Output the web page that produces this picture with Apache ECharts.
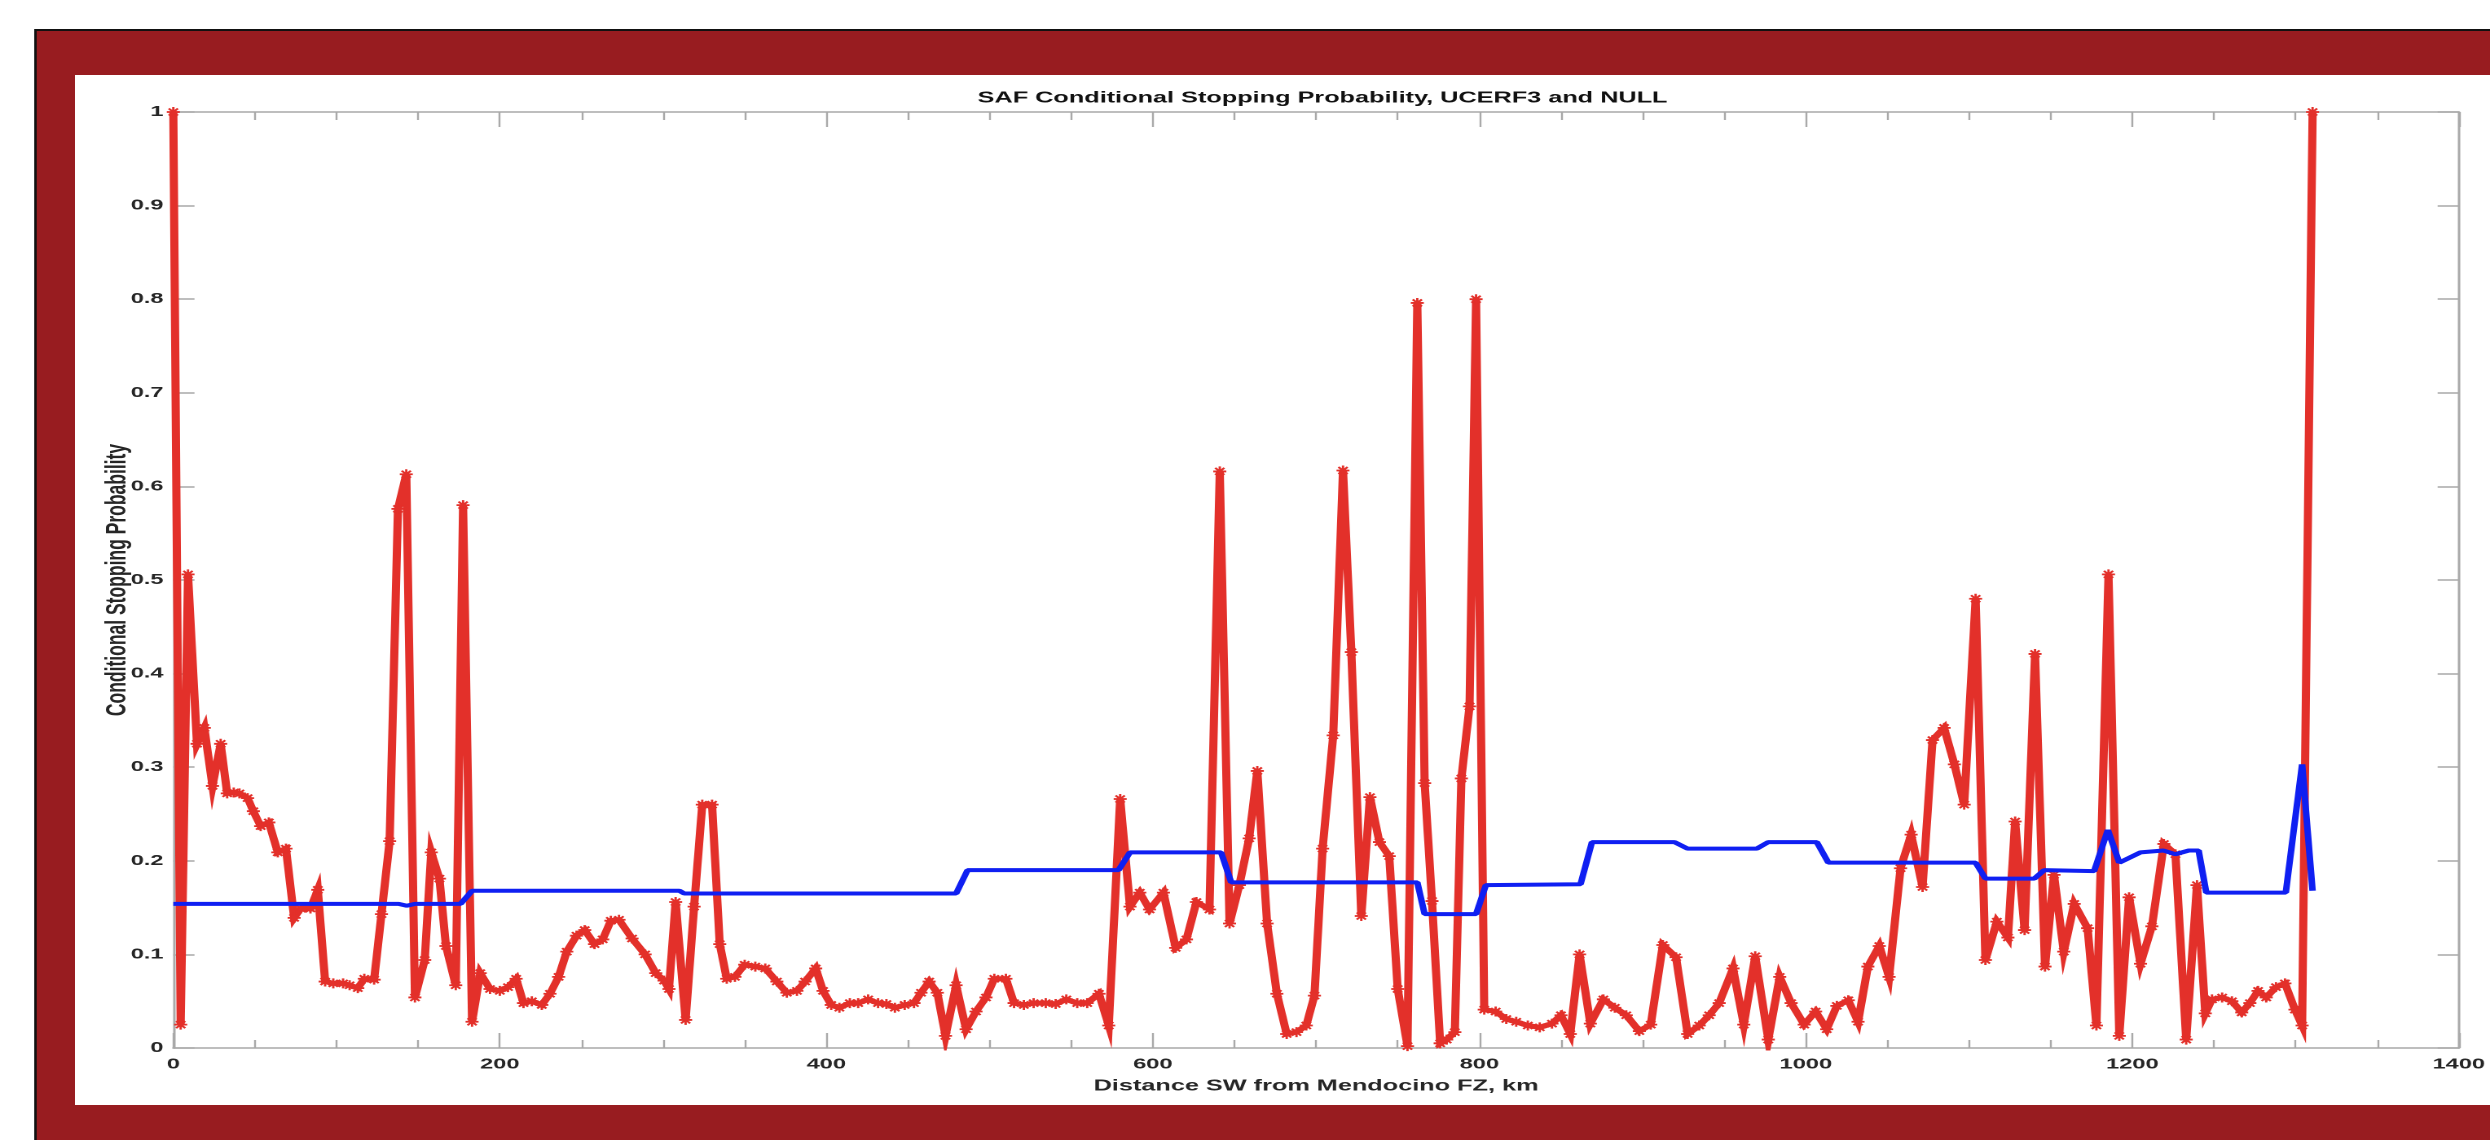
<!DOCTYPE html>
<html>
<head>
<meta charset="utf-8">
<script src="https://cdn.jsdelivr.net/npm/echarts@6/dist/echarts.min.js"></script>
<style>
  html, body { margin: 0; padding: 0; background: #ffffff; overflow: hidden; }
  #wrap { position: absolute; left: 0; top: 0; width: 2490px; height: 1140px; overflow: hidden; }
  #chart { position: absolute; left: 0; top: 0; width: 1528px; height: 1140px;
           transform: scaleX(1.629581); transform-origin: 0 0; }
</style>
</head>
<body>
<div id="wrap"><div id="chart"></div></div>
<script>
// ---- data ----
const chartTitle = 'SAF Conditional Stopping Probability, UCERF3 and NULL';
const xName = 'Distance SW from Mendocino FZ, km';
const yName = 'Conditional Stopping Probability';

// UCERF3 (red) : distance along fault (km) and conditional stopping probability
const ucerfKm = [
  0, 4.5, 9, 14.5, 19, 24, 29, 33, 37, 40.5, 45.5, 49, 53.5, 58.5, 64, 69, 74, 78, 81, 84, 88.5,
  93, 98, 104, 108, 113, 117, 123, 127.5, 132.5, 137.6, 142.7, 148, 154, 158, 163, 167, 173, 177.5,
  183, 188, 194, 200, 205, 210, 214.5, 219.6, 225.7, 230.7, 236, 241, 247, 252, 258, 263, 268, 273,
  281, 289, 295.5, 300.6, 303.6, 307.7, 313.8, 319, 324, 330, 334.7, 339, 344, 350, 356.5, 362.6,
  369.7, 375.8, 382, 387, 393.5, 398, 403, 408, 414.4, 419.5, 425.6, 431.7, 436.8, 442, 448, 453.7,
  458, 463, 468, 473, 479.5, 485.6, 491.7, 497.8, 502.9, 510, 515, 521, 527, 534.4, 540.5, 547,
  553.7, 559.8, 567, 573, 580, 586, 592, 598, 606.5, 614, 620.6, 626.7, 634.7, 641, 647, 653, 659,
  664, 670, 676, 682, 688, 694, 699, 704, 710.5, 716.5, 721.6, 727.7, 733, 738.8, 744.8, 750, 756,
  762, 766.5, 771, 776, 780, 785, 789, 794, 798, 803, 810, 816.5, 822.6, 829.7, 837, 844.5, 850,
  855.7, 861.4, 868, 876, 883, 890, 898, 905, 912.4, 920.5, 927.6, 934.7, 940.8, 946.9, 955.4, 962,
  969, 977, 984, 991, 999, 1006, 1012.8, 1019, 1026, 1032, 1038, 1045, 1051, 1058, 1064.5, 1071.5,
  1077.6, 1084.7, 1091, 1097, 1104, 1110, 1117, 1123.8, 1128.2, 1134, 1140.4, 1146.5, 1152, 1158,
  1164.4, 1172.6, 1178, 1185.4, 1192, 1198, 1205, 1212, 1219.3, 1226.4, 1233, 1239.6, 1244.7,
  1248.8, 1255, 1261, 1267, 1272, 1277, 1282, 1288, 1293.5, 1299.6, 1304, 1310.4
];
const ucerfProb = [
  1.0, 0.025, 0.506, 0.325, 0.342, 0.28, 0.325, 0.272, 0.273, 0.272, 0.267, 0.253, 0.237, 0.241, 0.209, 0.213, 0.139, 0.149, 0.150, 0.149, 0.169,
  0.071, 0.069, 0.069, 0.067, 0.064, 0.074, 0.073, 0.143, 0.221, 0.576, 0.613, 0.054, 0.094, 0.209, 0.181, 0.109, 0.067, 0.58,
  0.028, 0.080, 0.063, 0.061, 0.065, 0.074, 0.048, 0.050, 0.046, 0.058, 0.076, 0.103, 0.120, 0.126, 0.111, 0.116, 0.136, 0.137,
  0.117, 0.100, 0.080, 0.072, 0.063, 0.156, 0.030, 0.151, 0.260, 0.260, 0.111, 0.074, 0.076, 0.089, 0.087, 0.085,
  0.071, 0.059, 0.061, 0.071, 0.085, 0.061, 0.046, 0.043, 0.048, 0.048, 0.052, 0.048, 0.047, 0.043, 0.046, 0.048,
  0.059, 0.071, 0.059, 0.013, 0.067, 0.020, 0.039, 0.054, 0.074, 0.074, 0.048, 0.046, 0.048, 0.048, 0.047, 0.052,
  0.048, 0.048, 0.058, 0.024, 0.266, 0.151, 0.166, 0.148, 0.166, 0.107, 0.116, 0.156, 0.148, 0.616, 0.133, 0.174, 0.224,
  0.296, 0.133, 0.058, 0.015, 0.017, 0.024, 0.056, 0.213, 0.334, 0.617, 0.423, 0.141, 0.268, 0.220, 0.205, 0.063, 0.002,
  0.796, 0.283, 0.157, 0.005, 0.009, 0.017, 0.288, 0.365, 0.800, 0.041, 0.039, 0.031, 0.028, 0.024, 0.022, 0.026, 0.035,
  0.015, 0.100, 0.026, 0.052, 0.043, 0.035, 0.018, 0.025, 0.110, 0.097, 0.015, 0.024, 0.035, 0.048, 0.085, 0.025,
  0.098, 0.009, 0.076, 0.048, 0.025, 0.039, 0.020, 0.045, 0.051, 0.028, 0.087, 0.109, 0.076, 0.192, 0.228, 0.172,
  0.329, 0.342, 0.303, 0.260, 0.480, 0.094, 0.135, 0.118, 0.242, 0.126, 0.421, 0.087, 0.185, 0.103,
  0.154, 0.128, 0.024, 0.506, 0.013, 0.161, 0.090, 0.130, 0.218, 0.207, 0.009, 0.174, 0.037,
  0.052, 0.054, 0.050, 0.038, 0.048, 0.061, 0.054, 0.065, 0.069, 0.041, 0.024, 1.0
];

// NULL (blue)
const nullKm = [
  0, 138, 143, 148, 176, 183, 310, 313, 479.5, 486.5, 579, 586, 641.8, 648, 762, 766.5, 798, 804,
  862, 869, 919.5, 927.6, 970, 977, 1006.7, 1013.8, 1104, 1110, 1140, 1146, 1176.6, 1185, 1192,
  1205, 1219, 1226.4, 1234.6, 1240.6, 1245.3, 1294, 1304, 1310.4
];
const nullProb = [
  0.154, 0.154, 0.152, 0.154, 0.154, 0.168, 0.168, 0.165, 0.165, 0.190, 0.190, 0.209, 0.209, 0.177, 0.177, 0.143, 0.143, 0.174,
  0.175, 0.220, 0.220, 0.213, 0.213, 0.220, 0.220, 0.198, 0.198, 0.181, 0.181, 0.190, 0.189, 0.233, 0.198,
  0.209, 0.211, 0.207, 0.211, 0.211, 0.166, 0.166, 0.303, 0.168
];

const xMin = 0, xMax = 1400, xStep = 200;
const yMin = 0, yMax = 1, yStep = 0.1;

// ---- chart ----
const FONT = "'Liberation Sans', Arial, Helvetica, sans-serif";
const AX = '#a9a9a9';
const TXT = '#262626';
const RED = '#e3302a';
const BLUE = '#0f1ff2';

const chart = echarts.init(document.getElementById('chart'), null, { devicePixelRatio: 2 });

const W = 1528, H = 1140;
const axisCommon = {
  type: 'value', min: xMin, max: xMax, interval: xStep,
  splitLine: { show: false },
  axisLine: { show: true, onZero: false, lineStyle: { color: AX, width: 1.5 } },
  axisTick: { show: true, inside: true, length: 15, lineStyle: { color: AX, width: 1.2 } },
  minorTick: { show: true, splitNumber: 4, length: 8, lineStyle: { color: AX, width: 1.2 } }
};
const yCommon = {
  type: 'value', min: yMin, max: yMax, interval: yStep,
  splitLine: { show: false },
  axisLine: { show: true, onZero: false, lineStyle: { color: AX, width: 1.5 } },
  axisTick: { show: true, inside: true, length: 13, lineStyle: { color: AX, width: 1.5 } }
};

chart.setOption({
  backgroundColor: '#ffffff',
  animation: false,
  graphic: [
    { type: 'rect', silent: true, z: -10, shape: { x: 21, y: 29, width: W, height: H }, style: { fill: '#111111' } },
    { type: 'rect', silent: true, z: -9, shape: { x: 22.5, y: 31, width: W, height: H }, style: { fill: '#981c20' } },
    { type: 'rect', silent: true, z: -8, shape: { x: 46, y: 75, width: W, height: 1030 }, style: { fill: '#ffffff' } }
  ],
  title: {
    text: chartTitle,
    left: 806.6, top: 85, textAlign: 'center',
    textStyle: { fontFamily: FONT, fontSize: 15.5, fontWeight: 'bold', color: '#111111' }
  },
  grid: { left: 106.35, right: 11.1, top: 112, bottom: 92, containLabel: false },
  xAxis: [
    Object.assign({}, axisCommon, {
      position: 'bottom',
      axisLabel: { show: true, margin: 9, fontFamily: FONT, fontSize: 14.5, fontWeight: 'bold', color: TXT,
                   hideOverlap: false, formatter: v => String(Math.round(v)) },
      name: xName, nameLocation: 'middle', nameGap: 30, nameMoveOverlap: false,
      nameTextStyle: { fontFamily: FONT, fontSize: 15.5, fontWeight: 'bold', color: TXT }
    }),
    Object.assign({}, axisCommon, { position: 'top', axisLabel: { show: false } })
  ],
  yAxis: [
    Object.assign({}, yCommon, {
      position: 'left',
      axisLabel: { show: true, margin: 6, fontFamily: FONT, fontSize: 14.5, fontWeight: 'bold', color: TXT,
                   formatter: v => String(+(+v).toFixed(2)) },
      name: yName, nameLocation: 'middle', nameGap: 25, nameMoveOverlap: false,
      nameTextStyle: { fontFamily: FONT, fontSize: 17.5, fontWeight: 'bold', color: TXT }
    }),
    Object.assign({}, yCommon, { position: 'right', axisLabel: { show: false } })
  ],
  series: [
    {
      name: 'UCERF3', type: 'line', xAxisIndex: 0, yAxisIndex: 0,
      data: ucerfKm.map((k, i) => [k, ucerfProb[i]]),
      showSymbol: true, showAllSymbol: true,
      symbol: 'path://M5,0L5,10M0,5L10,5M1.5,1.5L8.5,8.5M1.5,8.5L8.5,1.5',
      symbolSize: [8, 10],
      itemStyle: { color: RED, borderColor: RED, borderWidth: 1.6 },
      lineStyle: { color: RED, width: 5, join: 'miter' },
      z: 2
    },
    {
      name: 'NULL', type: 'line', xAxisIndex: 0, yAxisIndex: 0,
      data: nullKm.map((k, i) => [k, nullProb[i]]),
      showSymbol: false,
      lineStyle: { color: BLUE, width: 4 },
      z: 3
    }
  ]
});
</script>
</body>
</html>
